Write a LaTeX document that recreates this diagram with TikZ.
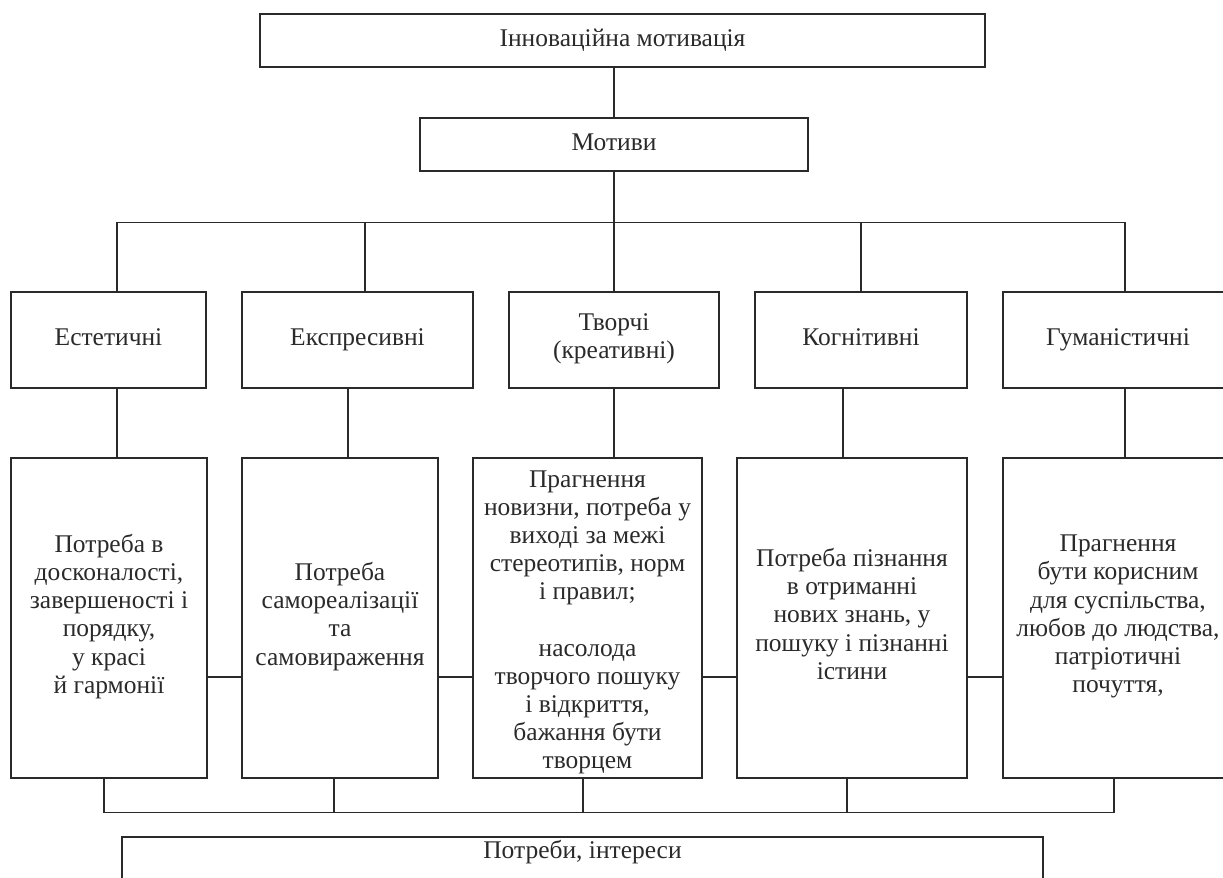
\documentclass[tikz,border=0pt]{standalone}
\usepackage{fontspec}
\setmainfont{Liberation Serif}
\usepackage{tikz}
\usetikzlibrary{calc}
\definecolor{ink}{HTML}{2A2A2A}
\tikzset{
    txt/.style={text=ink,align=center,inner sep=0pt,font=\fontsize{14.5}{16}\selectfont,
        execute at begin node=\strut,execute at end node=\strut},
    blk/.style={txt,draw=ink,line width=0.85pt},
    wire/.style={draw=ink,line width=0.85pt},
}

\begin{document}
\begin{tikzpicture}[x=0.02cm,y=-0.02cm]
        \useasboundingbox (0,0) rectangle (1223,877);
        \clip (0,0) rectangle (1223,877);

        %%% Top %%%
        \node[blk,minimum width=14.5cm,minimum height=1.06cm] (innov) at (622.5,40.5) {Інноваційна мотивація};
        \node[blk,minimum width=7.76cm,minimum height=1.06cm] (motiv) at (614,144.5) {Мотиви};
        \draw[wire] (motiv.north) -- (motiv.north |- innov.south);

        %%% Kinds of motives %%%
        \node[blk,minimum width=3.9cm,minimum height=1.92cm] (est) at (108.5,340) {Естетичні};
        \node[blk,minimum width=4.62cm,minimum height=1.92cm] (eks) at (357.5,340) {Експресивні};
        \node[blk,minimum width=4.2cm,minimum height=1.92cm] (tvo) at (614,340) {Творчі\\(креативні)};
        \node[blk,minimum width=4.24cm,minimum height=1.92cm] (kog) at (861,340) {Когнітивні};
        \node[blk,minimum width=4.6cm,minimum height=1.92cm] (hum) at (1118,340) {Гуманістичні};

        %%% Bus under Мотиви %%%
        \coordinate (busA) at ($(motiv.south)+(0,51)$);
        \draw[wire] (motiv.south) -- (motiv.south |- tvo.north);
        \draw[wire] ([xshift=0.17cm]est.north) |- (busA) -| ([xshift=0.14cm]hum.north);
        \draw[wire] ([xshift=0.15cm]eks.north) -- ([xshift=0.15cm]eks.north |- busA);
        \draw[wire] (kog.north) -- (kog.north |- busA);

        %%% Needs %%%
        \node[blk,minimum width=3.92cm,minimum height=6.4cm] (nest) at (109,618)
            {Потреба в\\досконалості,\\завершеності і\\порядку,\\у красі\\й гармонії};
        \node[blk,minimum width=3.92cm,minimum height=6.4cm] (neks) at (340,618)
            {Потреба\\самореалізації\\та\\самовираження};
        \node[blk,minimum width=4.58cm,minimum height=6.4cm] (ntvo) at (587.5,618) {};
        \node[txt,anchor=north] (ntvotxt) at ($(ntvo.north)+(0,13)$)
            {Прагнення\\новизни, потреба у\\виході за межі\\стереотипів, норм\\і правил;\\[16pt]
             насолода\\творчого пошуку\\і відкриття,\\бажання бути\\творцем};
        \node[blk,minimum width=4.6cm,minimum height=6.4cm] (nkog) at (852,618)
            {Потреба пізнання\\в отриманні\\нових знань, у\\пошуку і пізнанні\\істини};
        \node[blk,minimum width=4.6cm,minimum height=6.4cm] (nhum) at (1118,618)
            {Прагнення\\бути корисним\\для суспільства,\\любов до людства,\\патріотичні\\почуття,};

        %%% Kinds -> needs %%%
        \draw[wire] ([xshift=0.17cm]est.south) -- ([xshift=0.17cm]est.south |- nest.north);
        \draw[wire] ([xshift=-0.19cm]eks.south) -- ([xshift=-0.19cm]eks.south |- neks.north);
        \draw[wire] (tvo.south) -- (tvo.south |- ntvo.north);
        \draw[wire] ([xshift=-0.36cm]kog.south) -- ([xshift=-0.36cm]kog.south |- nkog.north);
        \draw[wire] ([xshift=0.14cm]hum.south) -- ([xshift=0.14cm]hum.south |- nhum.north);

        %%% Side links %%%
        \draw[wire] ([yshift=-1.18cm]nest.east) -- ([yshift=-1.18cm]neks.west);
        \draw[wire] ([yshift=-1.18cm]neks.east) -- ([yshift=-1.18cm]ntvo.west);
        \draw[wire] ([yshift=-1.18cm]ntvo.east) -- ([yshift=-1.18cm]nkog.west);
        \draw[wire] ([yshift=-1.18cm]nkog.east) -- ([yshift=-1.18cm]nhum.west);

        %%% Bottom %%%
        \node[blk,minimum width=18.42cm,minimum height=1.2cm,anchor=north] (need) at (582.5,836) {};
        \node[txt] (needlbl) at ($(need.north)+(0,17)$) {Потреби, інтереси};
        \coordinate (busB) at ($(nest.south)+(0,34)$);
        \draw[wire] ([xshift=-0.1cm]nest.south) |- (busB) -| ([xshift=-0.08cm]nhum.south);
        \draw[wire] ([xshift=-0.12cm]neks.south) -- ([xshift=-0.12cm]neks.south |- busB);
        \draw[wire] ([xshift=-0.09cm]ntvo.south) -- ([xshift=-0.09cm]ntvo.south |- busB);
        \draw[wire] ([xshift=-0.1cm]nkog.south) -- ([xshift=-0.1cm]nkog.south |- busB);
    \end{tikzpicture}
\end{document}
